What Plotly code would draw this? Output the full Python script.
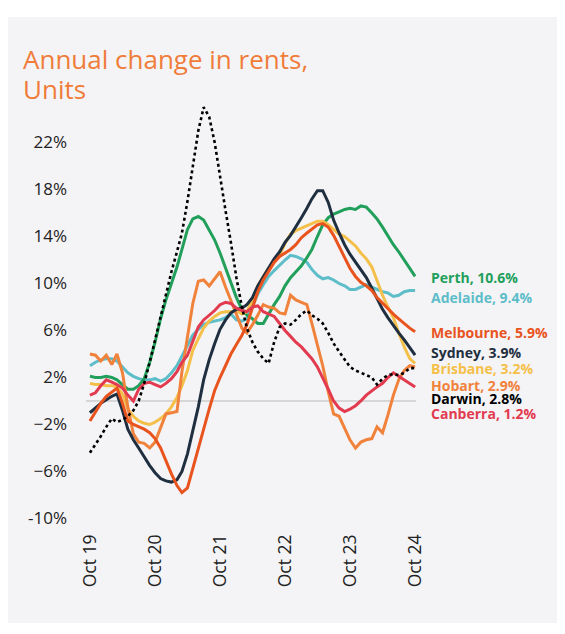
import pandas as pd
import plotly.graph_objects as go

# monthly, Oct 2019 .. Oct 2024 (61 points)
months = pd.date_range("2019-10-01", periods=61, freq="MS")

perth = [2.1, 2.0, 2.0, 2.1, 2.0, 1.8, 1.4, 1.0, 1.0, 1.3, 1.9, 3.3, 5.0, 7.0, 8.6, 10.0,
         11.4, 12.9, 14.6, 15.5, 15.7, 15.4, 14.6, 13.7, 12.6, 11.3, 10.2, 8.8, 7.8, 7.3,
         7.0, 6.6, 6.6, 7.4, 8.2, 8.9, 9.8, 10.5, 11.0, 11.5, 12.2, 12.9, 14.0, 15.0, 15.6,
         15.9, 16.1, 16.3, 16.4, 16.3, 16.6, 16.5, 16.0, 15.5, 14.8, 14.0, 13.3, 12.7, 12.0,
         11.3, 10.6]
adelaide = [3.0, 3.3, 3.5, 3.6, 3.6, 3.4, 2.9, 2.4, 2.1, 1.9, 1.8, 1.8, 1.9, 1.7, 1.9, 2.4,
            3.0, 3.8, 4.8, 5.6, 6.1, 6.5, 6.7, 6.8, 6.9, 7.1, 7.4, 6.9, 6.8, 7.0, 8.0, 9.1,
            9.9, 10.6, 11.1, 11.6, 12.0, 12.4, 12.3, 12.1, 11.8, 11.2, 10.7, 10.4, 10.5, 10.3,
            10.0, 9.8, 9.5, 9.5, 9.7, 9.9, 9.7, 9.5, 9.3, 9.2, 8.9, 9.0, 9.3, 9.4, 9.4]
melbourne = [-1.7, -0.9, -0.2, 0.4, 0.8, 1.1, -0.2, -1.7, -2.0, -2.2, -2.4, -2.7, -3.2, -4.0,
             -5.1, -6.2, -7.2, -7.8, -7.4, -5.8, -4.2, -2.4, -0.7, 0.9, 2.0, 3.0, 4.0, 4.8,
             5.6, 6.5, 7.9, 9.3, 10.3, 11.1, 11.8, 12.3, 12.6, 12.9, 13.3, 13.9, 14.3, 14.6,
             15.0, 15.1, 14.8, 14.1, 13.2, 12.2, 11.3, 10.6, 10.1, 9.8, 9.4, 8.8, 8.3, 7.9,
             7.4, 7.0, 6.6, 6.2, 5.9]
sydney = [-1.0, -0.6, -0.2, 0.1, 0.4, 0.6, -0.8, -2.4, -3.3, -4.0, -4.8, -5.5, -6.1, -6.6,
          -6.8, -6.9, -6.7, -6.0, -4.5, -2.5, -0.5, 1.8, 3.5, 4.9, 6.1, 6.9, 7.5, 7.8, 7.9,
          8.2, 8.8, 9.8, 10.6, 11.3, 12.1, 12.7, 13.5, 14.1, 14.8, 15.6, 16.4, 17.2, 17.9,
          17.9, 16.9, 15.4, 14.3, 13.3, 12.5, 11.8, 11.2, 10.5, 9.6, 8.7, 7.8, 7.1, 6.4, 5.8,
          5.2, 4.5, 3.9]
brisbane = [1.5, 1.4, 1.4, 1.3, 1.3, 1.2, 0.6, -0.7, -1.3, -1.7, -1.9, -2.0, -1.8, -1.5,
            -1.1, -0.5, 0.3, 1.3, 2.6, 4.3, 5.3, 6.2, 6.8, 7.2, 7.5, 7.6, 7.6, 7.7, 7.4, 7.6,
            8.6, 9.8, 10.6, 11.3, 11.8, 12.4, 13.4, 14.2, 14.5, 14.7, 14.9, 15.1, 15.3, 15.3,
            15.0, 14.6, 14.2, 14.0, 13.6, 13.2, 12.6, 12.1, 11.4, 10.2, 9.0, 8.0, 7.1, 5.8,
            4.6, 3.6, 3.2]
hobart = [4.0, 3.9, 3.4, 3.9, 3.1, 4.0, 2.4, -0.5, -2.8, -3.5, -3.6, -4.0, -3.5, -2.2, -1.1,
          -1.0, -0.9, 2.5, 5.5, 8.3, 10.2, 10.3, 9.8, 10.4, 11.0, 9.7, 8.6, 7.5, 6.2, 5.8,
          6.5, 7.3, 8.2, 8.0, 7.9, 7.5, 7.4, 9.0, 8.6, 8.4, 8.2, 6.6, 4.8, 3.0, 0.8, -1.1,
          -1.3, -2.3, -3.3, -4.0, -3.5, -3.3, -3.2, -2.2, -2.7, -1.2, 0.5, 1.8, 2.6, 3.0, 2.9]
darwin = [-4.4, -3.7, -3.0, -2.2, -1.5, -1.8, -1.6, -1.3, -0.8, 0.0, 1.5, 3.3, 5.2, 7.2, 9.0,
          11.0, 12.7, 14.3, 17.0, 20.0, 23.0, 25.0, 24.2, 22.0, 19.0, 16.2, 13.5, 10.5, 8.0,
          6.2, 5.0, 4.2, 3.6, 3.2, 5.0, 6.3, 6.6, 6.5, 6.9, 7.4, 7.7, 7.3, 7.0, 6.6, 5.8, 4.9,
          4.2, 3.5, 2.9, 2.6, 2.4, 2.2, 2.0, 1.4, 1.9, 2.2, 2.3, 2.2, 2.4, 2.8, 2.8]
canberra = [0.5, 0.7, 1.3, 1.8, 1.6, 1.4, 1.1, 0.5, 0.0, 1.0, 1.5, 1.6, 1.4, 1.2, 1.5, 1.9,
            2.5, 3.3, 3.9, 5.0, 6.3, 6.9, 7.3, 7.7, 8.2, 8.4, 8.3, 7.9, 7.7, 7.6, 8.0, 8.1,
            7.6, 7.4, 7.2, 6.6, 6.0, 5.5, 5.0, 4.6, 4.1, 3.6, 2.9, 2.0, 1.0, 0.0, -0.6, -0.9,
            -0.7, -0.4, 0.0, 0.5, 0.9, 1.2, 1.5, 2.0, 2.4, 2.1, 1.8, 1.5, 1.2]

y_ticks = [-10, -6, -2, 2, 6, 10, 14, 18, 22]
y_ticktext = ["-10%", "\u22126%", "\u22122%", "2%", "6%", "10%", "14%", "18%", "22%"]
x_ticks = pd.date_range("2019-10-01", periods=6, freq="12MS")

# name, values, colour, dash  (drawing order)
series = [
    ("Adelaide", adelaide, "#5dbdc9", "solid"),
    ("Perth", perth, "#22a05b", "solid"),
    ("Brisbane", brisbane, "#f5c04a", "solid"),
    ("Hobart", hobart, "#f0823c", "solid"),
    ("Sydney", sydney, "#1f2f40", "solid"),
    ("Melbourne", melbourne, "#e9531d", "solid"),
    ("Canberra", canberra, "#e23a4f", "solid"),
    ("Darwin", darwin, "#000000", "dot"),
]
# vertical position of the end labels (in axis units)
label_y = {"Perth": 10.55, "Adelaide": 8.85, "Melbourne": 5.8, "Sydney": 4.1,
           "Brisbane": 2.8, "Hobart": 1.36, "Darwin": 0.2, "Canberra": -1.1}

# the page body adds an 8px margin, so the figure is a bit smaller than the window
W, H = 557, 626
L, R, T, B = 78, 149, 88, 104
pw, ph = W - L - R, H - T - B

def px_x(p):
    return (p - L) / pw

def px_y(p):
    return (H - B - p) / ph

fig = go.Figure()
for name, vals, col, dash in series:
    fig.add_trace(go.Scatter(x=months, y=vals, mode="lines", name=name,
                             line=dict(color=col, width=3 if dash == "solid" else 2.6, dash=dash)))

for name, vals, col, dash in series:
    fig.add_annotation(x=1.04, xref="paper", xanchor="left", y=label_y[name], yref="y",
                       text=f"<b>{name}, {vals[-1]:.1f}%</b>", showarrow=False,
                       font=dict(family="Open Sans", size=14, color=col))

# title, two lines placed separately for tighter line spacing
for txt, yc in [("Annual change in rents,", 51.5), ("Units", 81)]:
    fig.add_annotation(x=px_x(13), xref="paper", xanchor="left", y=px_y(yc), yref="paper",
                       yanchor="middle", text=txt, showarrow=False,
                       font=dict(family="Open Sans", size=26, color="#f07c3a"))

# grey panel behind the chart
fig.add_shape(type="rect", xref="paper", yref="paper", layer="below",
              x0=px_x(-2), x1=px_x(W + 5), y0=px_y(615), y1=px_y(9),
              fillcolor="#f4f4f6", line_width=0)

fig.update_layout(
    width=W, height=H,
    margin=dict(l=L, r=R, t=T, b=B),
    paper_bgcolor="white", plot_bgcolor="rgba(0,0,0,0)",
    showlegend=False,
    font=dict(family="Open Sans", color="#222222"),
)
fig.update_xaxes(range=["2019-09-09", "2024-10-06"], tickvals=x_ticks, tickformat="%b %y",
                 tickangle=-90, showgrid=False, zeroline=False, showline=False,
                 tickfont=dict(size=17.5, color="#222222"))
fig.update_yaxes(range=[-10.98, 25.96], tickvals=y_ticks, ticktext=y_ticktext,
                 showgrid=False, zeroline=True, zerolinecolor="#d6d6d6", zerolinewidth=2,
                 showline=False, ticklabelstandoff=18,
                 tickfont=dict(size=17, color="#222222"))

fig.write_html("out.html")
